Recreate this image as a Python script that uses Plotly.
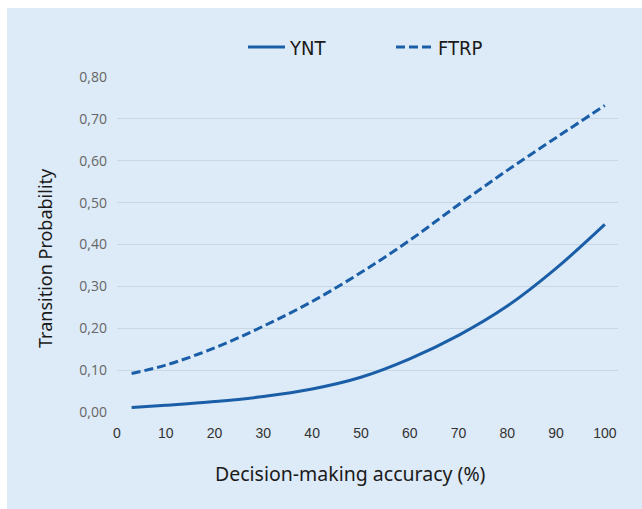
import plotly.graph_objects as go

accuracy = [3, 10, 20, 30, 40, 50, 60, 70, 80, 90, 100]
ynt = [0.0105, 0.016, 0.025, 0.037, 0.055, 0.083, 0.127, 0.183, 0.253, 0.343, 0.448]
ftrp = [0.092, 0.112, 0.153, 0.205, 0.264, 0.333, 0.410, 0.495, 0.577, 0.655, 0.732]
x_ticks = [0, 10, 20, 30, 40, 50, 60, 70, 80, 90, 100]
y_ticks = [0.0, 0.1, 0.2, 0.3, 0.4, 0.5, 0.6, 0.7, 0.8]
y_tick_labels = ["0,00", "0,10", "0,20", "0,30", "0,40", "0,50", "0,60", "0,70", "0,80"]
x_title = "Decision-making accuracy (%)"
y_title = "Transition Probability"

W, H = 642, 509
ML, MR, MT, MB = 117, 24, 77, 97
PANEL = "#DDEAF7"
BLUE = "#1A5EA8"

fig = go.Figure()
fig.add_trace(go.Scatter(x=accuracy, y=ynt, mode="lines", name="YNT",
                         line=dict(color=BLUE, width=3, shape="spline")))
fig.add_trace(go.Scatter(x=accuracy, y=ftrp, mode="lines", name="FTRP",
                         line=dict(color=BLUE, width=3, dash="9px,4px", shape="spline")))

pw = W - ML - MR
ph = H - MT - MB


def px_x(p):
    return (p - ML) / pw


def px_y(p):
    return (H - MB - p) / ph


fig.add_shape(type="rect", xref="paper", yref="paper",
              x0=px_x(7), x1=px_x(W + 5), y0=px_y(H + 5), y1=px_y(8),
              fillcolor=PANEL, line=dict(width=0), layer="below")

fig.add_annotation(text=x_title, xref="paper", yref="paper",
                   x=px_x(350), y=px_y(473), xanchor="center", yanchor="middle",
                   showarrow=False,
                   font=dict(family="Noto Sans", size=19.5, color="#1a1a1a"))
fig.add_annotation(text=y_title, xref="paper", yref="paper", textangle=-90,
                   x=px_x(45), y=px_y(258), xanchor="center", yanchor="middle",
                   showarrow=False,
                   font=dict(family="Noto Sans", size=18, color="#1a1a1a"))

fig.update_layout(
    width=W, height=H,
    margin=dict(l=ML, r=MR, t=MT, b=MB),
    paper_bgcolor="white",
    plot_bgcolor="rgba(0,0,0,0)",
    showlegend=True,
    legend=dict(orientation="h", x=px_x(243), xanchor="left",
                y=px_y(47), yanchor="middle",
                bgcolor="rgba(0,0,0,0)", entrywidth=96, entrywidthmode="pixels",
                itemwidth=37,
                font=dict(family="Liberation Sans Narrow, DejaVu Sans Condensed, Noto Sans",
                          size=20, color="#1a1a1a")),
    xaxis=dict(range=[0, 102.7], tickvals=x_ticks, ticktext=[str(v) for v in x_ticks],
               showgrid=False, zeroline=False, showline=False, ticks="",
               ticklabelstandoff=11,
               tickfont=dict(family="Liberation Sans, Arial", size=14, color="#333333")),
    yaxis=dict(range=[0, 0.8], tickvals=y_ticks, ticktext=y_tick_labels,
               showgrid=True, gridcolor="#C9D6E3", gridwidth=1,
               zeroline=False, showline=False, ticks="", ticklabelstandoff=9,
               tickfont=dict(family="Open Sans", size=14, color="#666666")),
)

fig.write_html("out.html", config={"displayModeBar": False},
               post_script="document.body.style.margin='0';")
